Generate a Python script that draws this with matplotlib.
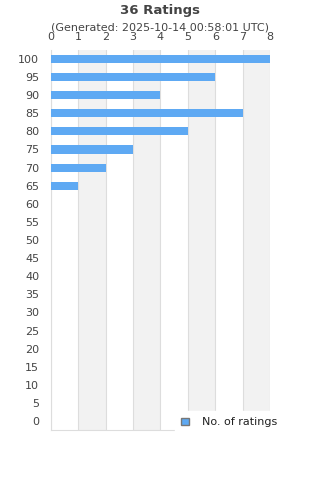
import matplotlib
matplotlib.use("Agg")
import matplotlib.pyplot as plt
from matplotlib.patches import Patch

categories = [str(v) for v in range(0, 101, 5)]
counts = [0]*13 + [1, 2, 3, 5, 7, 4, 6, 8]
title = "36 Ratings"
subtitle = "(Generated: 2025-10-14 00:58:01 UTC)"
series_name = "No. of ratings"

fig = plt.figure(figsize=(3.2, 4.8), dpi=100)
ax = fig.add_axes([0.159, 0.104, 0.685, 0.792])
ypos = list(range(len(categories)))
ax.barh(ypos, counts, height=0.45, color="#5ea9f3", zorder=3)
ax.set_ylim(-0.5, len(categories) - 0.5)
ax.set_xlim(0, 8)
for i in range(1, 8, 2):
    ax.axvspan(i, i + 1, color="#f2f2f2", zorder=0, lw=0)
ax.xaxis.tick_top()
ax.set_xticks(range(0, 9))
ax.set_yticks(ypos)
ax.set_yticklabels(categories)
ax.grid(axis="x", color="#dddddd", lw=0.8, zorder=1)
ax.tick_params(axis="both", length=0, labelsize=8, colors="#444444")
ax.tick_params(axis="y", pad=8.5)
ax.tick_params(axis="x", pad=6)
for s in ["top", "right"]:
    ax.spines[s].set_visible(False)
for s in ["left", "bottom"]:
    ax.spines[s].set_color("#dddddd")
    ax.spines[s].set_linewidth(0.8)
fig.text(0.5, 0.978, title, ha="center", va="center", fontsize=9.5, fontweight="bold", color="#444444")
fig.text(0.5, 0.942, subtitle, ha="center", va="center", fontsize=8, color="#444444")
leg = fig.legend(handles=[Patch(facecolor="#5ea9f3", edgecolor="#777777", label=series_name)],
                 loc="center", bbox_to_anchor=(0.717, 0.12), frameon=True, fontsize=8,
                 handlelength=0.7, handleheight=0.7, handletextpad=1.2, borderpad=0.6)
leg.get_frame().set_edgecolor("white")
leg.get_frame().set_facecolor("white")
leg.get_frame().set_alpha(1)
for t in leg.get_texts():
    t.set_color("#222222")
fig.savefig("out.png", dpi=100)
